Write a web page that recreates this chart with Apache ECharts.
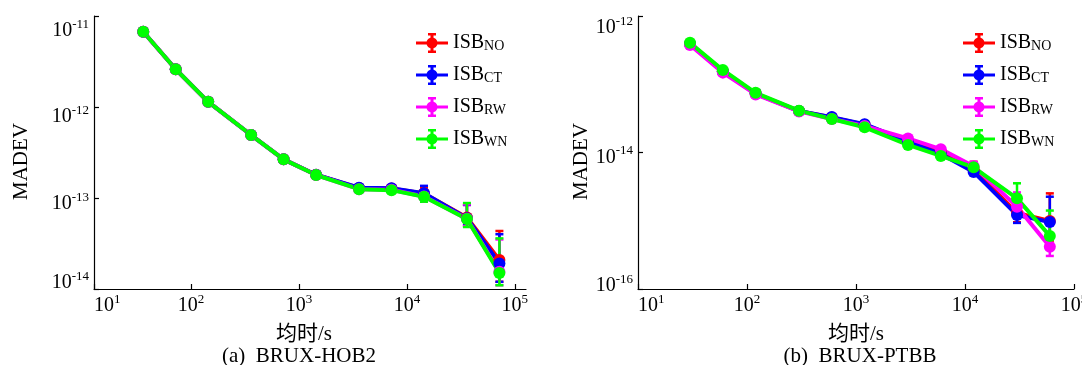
<!DOCTYPE html>
<html><head><meta charset="utf-8">
<script src="https://cdn.jsdelivr.net/npm/echarts@6/dist/echarts.min.js"></script>
<style>html,body{margin:0;padding:0;background:#fff}#c{width:1082px;height:365px}</style>
</head><body><div id="c"></div>
<script>
// ---------- data ----------
const seriesNames = ['ISB_NO', 'ISB_CT', 'ISB_RW', 'ISB_WN'];
const seriesColors = ['#ff0000', '#0000ff', '#ff00ff', '#00ff00'];
const xTickExps = [1, 2, 3, 4, 5];
const yTickExpsA = [-14, -13, -12, -11];
const yTickExpsB = [-16, -14, -12];
const captionA = '(a)  BRUX-HOB2';
const captionB = '(b)  BRUX-PTBB';
const xName = '均时/s';
const yName = 'MADEV';

// (a) BRUX-HOB2
const tauA = [36, 72, 144, 360, 720, 1440, 3600, 7200, 14400, 36000, 72000];
const a_NO = [6.72e-12, 2.60e-12, 1.14e-12, 4.92e-13, 2.66e-13, 1.80e-13, 1.29e-13, 1.27e-13, 1.12e-13, 6.1e-14, 2.08e-14];
const a_CT = [6.72e-12, 2.60e-12, 1.14e-12, 4.92e-13, 2.66e-13, 1.80e-13, 1.30e-13, 1.28e-13, 1.13e-13, 6.0e-14, 1.91e-14];
const a_RW = [6.72e-12, 2.60e-12, 1.14e-12, 4.92e-13, 2.66e-13, 1.79e-13, 1.25e-13, 1.23e-13, 1.04e-13, 5.9e-14, 1.55e-14];
const a_WN = [6.72e-12, 2.60e-12, 1.14e-12, 4.92e-13, 2.66e-13, 1.79e-13, 1.25e-13, 1.22e-13, 1.03e-13, 5.87e-14, 1.50e-14];
const a_NO_lo = [6.5e-12, 2.52e-12, 1.10e-12, 4.75e-13, 2.57e-13, 1.73e-13, 1.22e-13, 1.18e-13, 1.00e-13, 5.0e-14, 1.2e-14];
const a_NO_hi = [6.95e-12, 2.68e-12, 1.18e-12, 5.10e-13, 2.75e-13, 1.87e-13, 1.35e-13, 1.36e-13, 1.30e-13, 8.4e-14, 4.34e-14];
const a_CT_lo = [6.5e-12, 2.52e-12, 1.10e-12, 4.75e-13, 2.57e-13, 1.73e-13, 1.22e-13, 1.18e-13, 1.00e-13, 5.0e-14, 1.2e-14];
const a_CT_hi = [6.95e-12, 2.68e-12, 1.18e-12, 5.10e-13, 2.75e-13, 1.87e-13, 1.36e-13, 1.38e-13, 1.36e-13, 8.4e-14, 4.0e-14];
const a_RW_lo = [6.5e-12, 2.52e-12, 1.10e-12, 4.75e-13, 2.57e-13, 1.73e-13, 1.19e-13, 1.15e-13, 9.2e-14, 4.9e-14, 1.1e-14];
const a_RW_hi = [6.95e-12, 2.68e-12, 1.18e-12, 5.10e-13, 2.75e-13, 1.86e-13, 1.31e-13, 1.30e-13, 1.16e-13, 8.5e-14, 3.5e-14];
const a_WN_lo = [6.5e-12, 2.52e-12, 1.10e-12, 4.75e-13, 2.57e-13, 1.73e-13, 1.19e-13, 1.15e-13, 9.1e-14, 4.8e-14, 1.1e-14];
const a_WN_hi = [6.95e-12, 2.68e-12, 1.18e-12, 5.10e-13, 2.75e-13, 1.86e-13, 1.31e-13, 1.30e-13, 1.17e-13, 8.8e-14, 3.6e-14];

// (b) BRUX-PTBB
const tauB = [30, 60, 120, 300, 600, 1200, 3000, 6000, 12000, 30000, 60000];
const b_NO = [3.9e-13, 1.55e-13, 7.3e-14, 4.05e-14, 3.25e-14, 2.55e-14, 1.47e-14, 1.03e-14, 5.6e-15, 1.3e-15, 9.9e-16];
const b_CT = [3.9e-13, 1.55e-13, 7.3e-14, 4.05e-14, 3.3e-14, 2.6e-14, 1.44e-14, 9.5e-15, 5.2e-15, 1.21e-15, 9.6e-16];
const b_RW = [3.76e-13, 1.48e-13, 7.1e-14, 4.0e-14, 3.1e-14, 2.45e-14, 1.61e-14, 1.12e-14, 6.3e-15, 1.61e-15, 4.17e-16];
const b_WN = [4.06e-13, 1.62e-13, 7.5e-14, 4.1e-14, 3.1e-14, 2.34e-14, 1.29e-14, 8.9e-15, 6.07e-15, 2.13e-15, 6.0e-16];
const b_NO_lo = [3.7e-13, 1.47e-13, 6.9e-14, 3.85e-14, 3.05e-14, 2.4e-14, 1.38e-14, 9.6e-15, 5.2e-15, 9.5e-16, 5.0e-16];
const b_NO_hi = [4.1e-13, 1.63e-13, 7.7e-14, 4.25e-14, 3.45e-14, 2.7e-14, 1.56e-14, 1.1e-14, 7.3e-15, 1.6e-15, 2.52e-15];
const b_CT_lo = [3.7e-13, 1.47e-13, 6.9e-14, 3.85e-14, 3.1e-14, 2.45e-14, 1.35e-14, 8.9e-15, 4.8e-15, 9.3e-16, 6.0e-16];
const b_CT_hi = [4.1e-13, 1.63e-13, 7.7e-14, 4.25e-14, 3.5e-14, 2.75e-14, 1.53e-14, 1.02e-14, 5.8e-15, 1.5e-15, 2.25e-15];
const b_RW_lo = [3.55e-13, 1.4e-13, 6.7e-14, 3.8e-14, 2.9e-14, 2.3e-14, 1.5e-14, 1.04e-14, 5.7e-15, 1.2e-15, 3.05e-16];
const b_RW_hi = [3.95e-13, 1.56e-13, 7.5e-14, 4.2e-14, 3.3e-14, 2.6e-14, 1.72e-14, 1.2e-14, 7.3e-15, 2.6e-15, 6.0e-16];
const b_WN_lo = [3.85e-13, 1.54e-13, 7.1e-14, 3.9e-14, 2.95e-14, 2.2e-14, 1.2e-14, 8.3e-15, 5.6e-15, 1.55e-15, 4.3e-16];
const b_WN_hi = [4.25e-13, 1.7e-13, 7.9e-14, 4.3e-14, 3.25e-14, 2.5e-14, 1.38e-14, 9.5e-15, 6.6e-15, 3.54e-15, 1.41e-15];

const plotA = { tau: tauA, vals: [a_NO, a_CT, a_RW, a_WN], lo: [a_NO_lo, a_CT_lo, a_RW_lo, a_WN_lo], hi: [a_NO_hi, a_CT_hi, a_RW_hi, a_WN_hi] };
const plotB = { tau: tauB, vals: [b_NO, b_CT, b_RW, b_WN], lo: [b_NO_lo, b_CT_lo, b_RW_lo, b_WN_lo], hi: [b_NO_hi, b_CT_hi, b_RW_hi, b_WN_hi] };

// ---------- styling ----------
const FONT = "'Liberation Serif', 'Noto Sans CJK SC', serif";
// vertical nudges (px, + = down) of y tick labels, as placed in the reference figure
const yLabelShiftA = { '-11': 15, '-12': 10, '-13': 6, '-14': -6 };
const yLabelShiftB = { '-12': 12, '-14': 5, '-16': -3 };
const SUP_RAISE = 13;

function makeRich(shifts) {
  const base = { fontSize: 20, fontFamily: FONT, color: '#000', lineHeight: 22, verticalAlign: 'middle' };
  const sup = { fontSize: 13, fontFamily: FONT, color: '#000', lineHeight: 9, verticalAlign: 'middle' };
  const rich = {
    b: Object.assign({}, base),
    sup: Object.assign({}, sup, { padding: [0, 0, SUP_RAISE, 0] })
  };
  Object.keys(shifts || {}).forEach((k, i) => {
    const s = shifts[k];
    const top = Math.max(2 * s, 0), bot = Math.max(-2 * s, 0);
    rich['b' + i] = Object.assign({}, base, { padding: [top, 0, bot, 0] });
    rich['s' + i] = Object.assign({}, sup, { padding: [top, 0, bot + SUP_RAISE, 0] });
  });
  return rich;
}
function powLabel(exps, shifts) {
  const keys = Object.keys(shifts || {});
  return function (v) {
    const e = Math.round(Math.log10(v));
    if (!exps.includes(e)) return '';
    const i = keys.indexOf(String(e));
    if (i < 0) return '{b|10}{sup|' + e + '}';
    return '{b' + i + '|10}{s' + i + '|' + e + '}';
  };
}
const axisLineStyle = { color: '#000', width: 1.2 };
function xAxisCfg(grid, min, max, showMax) {
  return {
    type: 'log', logBase: 10, gridIndex: grid, min: min, max: max,
    name: xName, nameLocation: 'middle', nameGap: 34,
    nameTextStyle: { fontSize: 21, fontFamily: FONT, color: '#000', padding: grid === 0 ? [0, 12, 0, 0] : [0, 0, 0, 0] },
    axisLine: { lineStyle: axisLineStyle },
    axisTick: { inside: true, length: 5, lineStyle: axisLineStyle },
    splitLine: { show: false }, minorTick: { show: false },
    axisLabel: { formatter: powLabel(xTickExps), rich: makeRich(), margin: 6, showMaxLabel: showMax, alignMinLabel: 'left', hideOverlap: false }
  };
}
function yAxisCfg(grid, min, max, base, exps, gap, shifts) {
  return {
    type: 'log', logBase: base, gridIndex: grid, min: min, max: max,
    name: yName, nameLocation: 'middle', nameGap: gap, nameRotate: 90,
    nameTextStyle: { fontSize: 21, fontFamily: FONT, color: '#000', padding: [0, 18, 0, 0] },
    axisLine: { lineStyle: axisLineStyle },
    axisTick: { inside: true, length: 5, lineStyle: axisLineStyle },
    splitLine: { show: false }, minorTick: { show: false },
    axisLabel: { formatter: powLabel(exps, shifts), rich: makeRich(shifts), margin: 5, hideOverlap: false }
  };
}

function errSeries(name, color, tau, lo, hi, gi) {
  return {
    type: 'custom', name: name, xAxisIndex: gi, yAxisIndex: gi, silent: true, clip: true,
    itemStyle: { color: color },
    data: tau.map((t, i) => [t, lo[i], hi[i]]),
    encode: { x: 0, y: [1, 2] },
    renderItem: function (params, api) {
      const x = api.value(0);
      const p1 = api.coord([x, api.value(1)]);
      const p2 = api.coord([x, api.value(2)]);
      const hw = 4;
      const st = { stroke: color, lineWidth: 2.5, fill: null };
      return { type: 'group', children: [
        { type: 'line', shape: { x1: p1[0], y1: p1[1], x2: p2[0], y2: p2[1] }, style: st },
        { type: 'line', shape: { x1: p1[0] - hw, y1: p1[1], x2: p1[0] + hw, y2: p1[1] }, style: st },
        { type: 'line', shape: { x1: p2[0] - hw, y1: p2[1], x2: p2[0] + hw, y2: p2[1] }, style: st }
      ] };
    }
  };
}
function lineSeries(name, color, tau, vals, gi) {
  return {
    type: 'line', name: name, xAxisIndex: gi, yAxisIndex: gi,
    data: tau.map((t, i) => [t, vals[i]]),
    symbol: 'circle', symbolSize: 12, showSymbol: true,
    lineStyle: { color: color, width: 4 }, itemStyle: { color: color },
    emphasis: { disabled: true }
  };
}
const series = [];
[plotA, plotB].forEach((p, gi) => {
  seriesNames.forEach((n, k) => {
    series.push(errSeries(n, seriesColors[k], p.tau, p.lo[k], p.hi[k], gi));
    series.push(lineSeries(n, seriesColors[k], p.tau, p.vals[k], gi));
  });
});

const legendIcon = 'path://M0,8.5H32V11.5H0Z M14.5,1H17.5V19H14.5Z M12,0H20V2.5H12Z M12,17.5H20V20H12Z M21.5,10C21.5,13.04 19.04,15.5 16,15.5C12.96,15.5 10.5,13.04 10.5,10C10.5,6.96 12.96,4.5 16,4.5C19.04,4.5 21.5,6.96 21.5,10Z';
function legendCfg(left) {
  return {
    orient: 'vertical', left: left, top: 33, padding: 0, itemWidth: 32, itemHeight: 20, itemGap: 12,
    selectedMode: false, icon: legendIcon,
    data: seriesNames.map((n, k) => ({ name: n, icon: legendIcon, itemStyle: { color: seriesColors[k], borderWidth: 0 } })),
    itemStyle: { borderWidth: 0 },
    formatter: n => 'ISB{s|' + n.split('_')[1] + '}',
    textStyle: { fontSize: 20, fontFamily: FONT, color: '#000', lineHeight: 20,
      rich: { s: { fontSize: 14, fontFamily: FONT, color: '#000', lineHeight: 12, verticalAlign: 'bottom' } } }
  };
}

const chart = echarts.init(document.getElementById('c'), null, { renderer: 'canvas' });
chart.setOption({
  animation: false,
  backgroundColor: '#fff',
  grid: [
    { left: 94, top: 16, width: 432, height: 273, outerBoundsMode: 'none', containLabel: false },
    { left: 638, top: 16, width: 436, height: 273, outerBoundsMode: 'none', containLabel: false }
  ],
  xAxis: [xAxisCfg(0, 12.59, 127000, false), xAxisCfg(1, 10, 100000, true)],
  yAxis: [yAxisCfg(0, 1e-14, 1e-11, 10, yTickExpsA, 62, yLabelShiftA), yAxisCfg(1, 1e-16, 1e-12, 100, yTickExpsB, 35, yLabelShiftB)],
  legend: [legendCfg(416), legendCfg(963)],
  graphic: [
    { type: 'text', x: 299, y: 356, style: { text: captionA, fontSize: 21, fontFamily: FONT, fill: '#000', align: 'center', verticalAlign: 'middle' } },
    { type: 'text', x: 860, y: 356, style: { text: captionB, fontSize: 21, fontFamily: FONT, fill: '#000', align: 'center', verticalAlign: 'middle' } }
  ],
  series: series
});
</script>
</body></html>
